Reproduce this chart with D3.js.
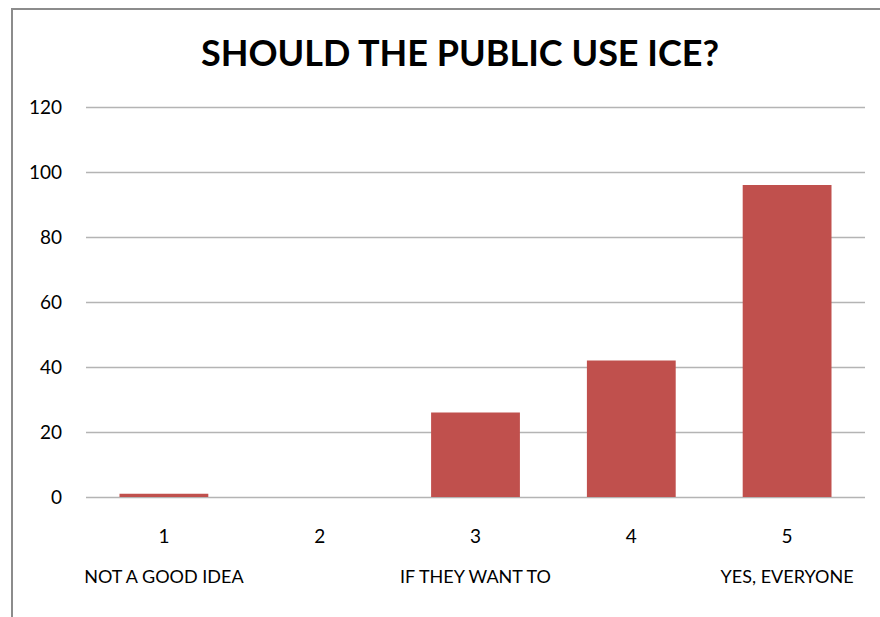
<!DOCTYPE html>
<html>
<head>
<meta charset="utf-8">
<script src="https://cdn.jsdelivr.net/npm/d3@7"></script>
<style>
  html, body { margin: 0; padding: 0; background: #fff; }
  svg { display: block; }
  text { font-family: Lato, "Open Sans", sans-serif; fill: #000; }
</style>
</head>
<body>
<svg id="chart" width="880" height="617"></svg>
<script>
// Survey responses: should the public use ice?
const categories = ["1", "2", "3", "4", "5"];
const counts = [1, 0, 26, 42, 96];
const yTicks = [0, 20, 40, 60, 80, 100, 120];
const scaleLabels = [
  { category: "1", text: "NOT A GOOD IDEA" },
  { category: "3", text: "IF THEY WANT TO" },
  { category: "5", text: "YES, EVERYONE" }
];
const title = "SHOULD THE PUBLIC USE ICE?";

const svg = d3.select("#chart");
const W = 880, H = 617;
const plot = { left: 86, right: 865, top: 107, bottom: 497 };

svg.append("rect").attr("width", W).attr("height", H).attr("fill", "#fff");

// Chart frame (runs past the right and bottom edges of the view)
svg.append("rect")
  .attr("x", 12).attr("y", 9)
  .attr("width", W + 20).attr("height", H + 20)
  .attr("fill", "none")
  .attr("stroke", "#8c8c8c")
  .attr("stroke-width", 2);

const x = d3.scaleBand()
  .domain(categories)
  .range([plot.left, plot.right])
  .paddingInner(0.43)
  .paddingOuter(0.215);

const y = d3.scaleLinear()
  .domain([0, 120])
  .range([plot.bottom, plot.top]);

// Horizontal gridlines
svg.append("g")
  .selectAll("line")
  .data(yTicks)
  .join("line")
  .attr("x1", plot.left).attr("x2", plot.right)
  .attr("y1", d => Math.round(y(d)) + 0.5)
  .attr("y2", d => Math.round(y(d)) + 0.5)
  .attr("stroke", "#b4b4b4")
  .attr("stroke-width", 1.5);

// Y axis labels
const yAxis = d3.axisLeft(y).tickValues(yTicks).tickSize(0).tickPadding(0);
const yg = svg.append("g")
  .attr("transform", `translate(62,0)`)
  .call(yAxis);
yg.select(".domain").remove();
yg.selectAll("text")
  .attr("font-family", "Lato, 'Open Sans', sans-serif")
  .attr("font-size", 19)
  .attr("fill", "#000")
  .attr("dy", "0.36em");

// Bars
svg.append("g")
  .selectAll("rect")
  .data(categories.map((c, i) => ({ c, v: counts[i] })))
  .join("rect")
  .attr("x", d => x(d.c))
  .attr("y", d => y(d.v))
  .attr("width", x.bandwidth())
  .attr("height", d => y(0) - y(d.v))
  .attr("fill", "#c0504d");

// Category axis
const xAxis = d3.axisBottom(x).tickSize(0).tickPadding(0);
const xg = svg.append("g")
  .attr("transform", `translate(0,529)`)
  .call(xAxis);
xg.select(".domain").remove();
xg.selectAll("text")
  .attr("font-family", "Lato, 'Open Sans', sans-serif")
  .attr("font-size", 19)
  .attr("fill", "#000")
  .attr("dy", "0.72em");

// Scale descriptions beneath the categories
svg.append("g")
  .selectAll("text")
  .data(scaleLabels)
  .join("text")
  .attr("x", d => x(d.category) + x.bandwidth() / 2)
  .attr("y", 583)
  .attr("text-anchor", "middle")
  .attr("font-size", 18)
  .text(d => d.text);

// Title
svg.append("text")
  .attr("x", 460)
  .attr("y", 66)
  .attr("text-anchor", "middle")
  .attr("font-size", 36)
  .attr("font-weight", 700)
  .text(title);
</script>
</body>
</html>
